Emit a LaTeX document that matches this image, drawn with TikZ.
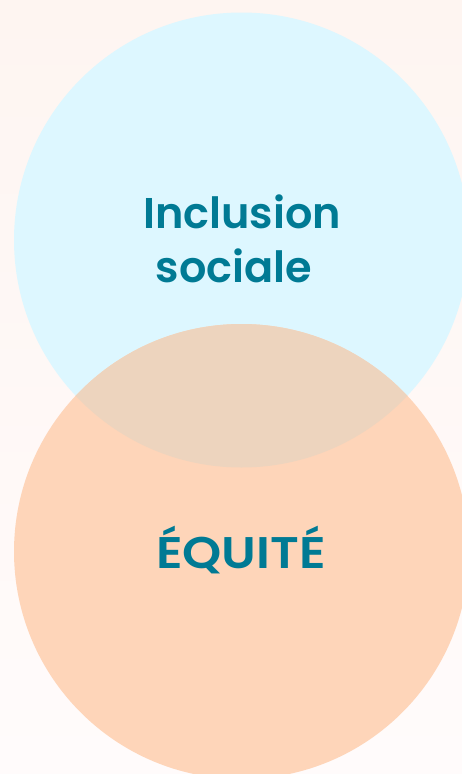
\documentclass[tikz,border=0pt]{standalone}
\usepackage{fontspec}
\setmainfont{Poppins}[BoldFont={* SemiBold}]
\definecolor{bgtop}{HTML}{FEF5F1}
\definecolor{bgbot}{HTML}{FFFBFB}
\definecolor{cyanc}{HTML}{DDF7FF}
\definecolor{orangec}{HTML}{FED5B9}
\definecolor{overc}{HTML}{EDD4BE}
\definecolor{tealc}{HTML}{007A94}
\tikzset{
  lbl/.style={text=tealc, font=\fontsize{43}{50}\selectfont\bfseries, inner sep=0pt, anchor=base}
}
\begin{document}
\begin{tikzpicture}[x=1pt,y=-1pt]
\useasboundingbox (0,0) rectangle (462,774);
\shade[top color=bgtop, bottom color=bgbot] (0,0) rectangle (462,774);
\fill[cyanc] (241.5,240) circle (227.5);
\fill[orangec] (241.5,551.5) circle (227.5);
\begin{scope}
  \clip (241.5,240) circle (227.5);
  \fill[overc] (241.5,551.5) circle (227.5);
\end{scope}
\node[lbl] (incl) at (242,228) {Inclusion};
\node[lbl] (soc) at (234,282) {sociale};
\node[lbl] (equ) at (241,568) {\scalebox{1.16}[1.03]{ÉQUITÉ}};
\end{tikzpicture}
\end{document}
